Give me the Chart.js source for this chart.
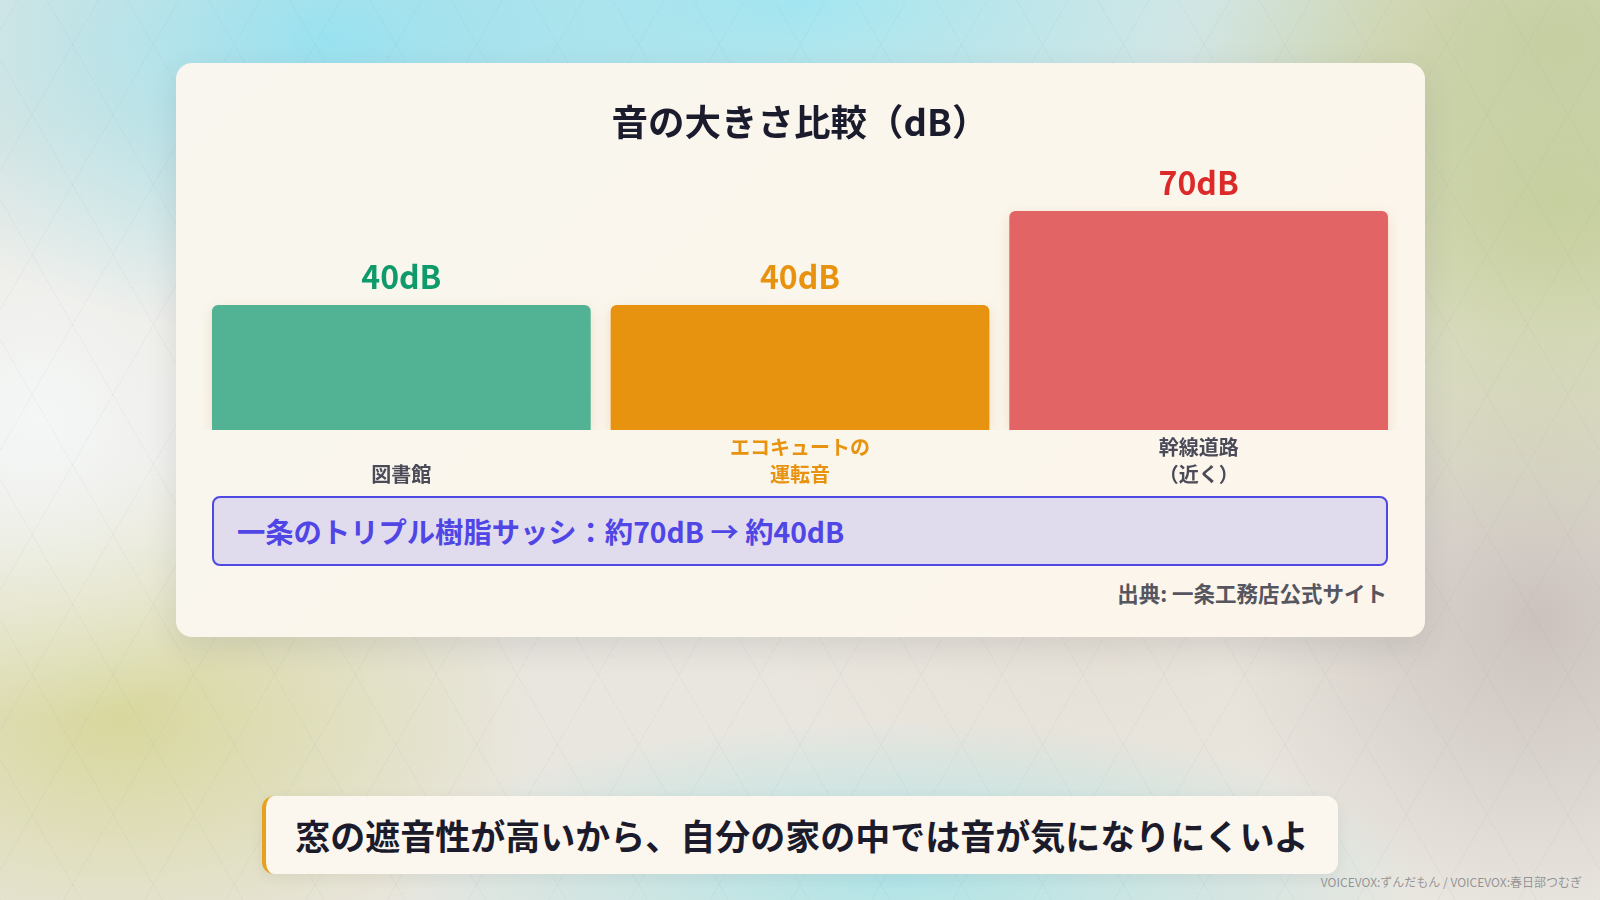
<!DOCTYPE html>
<html lang="ja">
<head>
<meta charset="utf-8">
<title>音の大きさ比較（dB）</title>
<script src="https://cdn.jsdelivr.net/npm/chart.js@4.4.1/dist/chart.umd.min.js"></script>
<style>
    html, body {
        margin: 0;
        padding: 0;
        width: 1600px;
        height: 900px;
        overflow: hidden;
        font-family: 'Noto Sans CJK JP', 'Noto Sans', sans-serif;
    }
    body {
        position: relative;
        background-color: #e9e6df;
        background-image:
            repeating-linear-gradient(60deg, rgba(110, 125, 150, 0.06) 0 1px, transparent 1px 70px),
            repeating-linear-gradient(-60deg, rgba(110, 125, 150, 0.06) 0 1px, transparent 1px 70px),
            radial-gradient(ellipse 520px 300px at 330px 40px, rgba(150, 225, 240, 0.95), transparent),
            radial-gradient(ellipse 600px 260px at 800px 0px, rgba(160, 230, 242, 0.95), transparent),
            radial-gradient(ellipse 300px 300px at 40px 420px, rgba(245, 248, 248, 0.95), transparent),
            radial-gradient(ellipse 380px 300px at 1560px 40px, rgba(196, 206, 160, 0.95), transparent),
            radial-gradient(ellipse 420px 360px at 1560px 200px, rgba(196, 206, 150, 0.9), transparent),
            radial-gradient(ellipse 420px 260px at 120px 720px, rgba(214, 214, 150, 0.9), transparent),
            radial-gradient(ellipse 320px 300px at 1540px 620px, rgba(200, 190, 185, 0.9), transparent),
            radial-gradient(ellipse 520px 160px at 900px 880px, rgba(170, 228, 232, 0.9), transparent),
            radial-gradient(ellipse 360px 200px at 1100px 640px, rgba(230, 224, 214, 0.9), transparent);
    }
    .card {
        position: absolute;
        left: 176px;
        top: 63px;
        width: 1249px;
        height: 574px;
        border-radius: 16px;
        background: linear-gradient(135deg, #f8f6ee 0%, #fbf6ec 60%, #fcf5eb 100%);
        box-shadow: 0 10px 30px rgba(60, 60, 70, 0.12);
    }
    .chart-box {
        position: absolute;
        left: 0;
        top: 0;
        width: 1249px;
        height: 429px;
    }
    .callout {
        position: absolute;
        left: 36px;
        top: 433px;
        width: 1149px;
        height: 66px;
        border: 2px solid #5048e2;
        border-radius: 8px;
        background: #e1dbee;
        color: #4f46e5;
        font-weight: bold;
        font-size: 28.3px;
        line-height: 66px;
        padding-left: 23px;
        box-sizing: content-box;
        white-space: nowrap;
    }
    .source {
        position: absolute;
        right: 38px;
        top: 514px;
        font-size: 21.5px;
        font-weight: bold;
        color: #55565f;
        white-space: nowrap;
    }
    .subtitle {
        position: absolute;
        left: 262px;
        top: 796px;
        width: 1076px;
        height: 78px;
        border-radius: 12px;
        border-left: 4px solid #e8a020;
        background: #fbf7ef;
        box-sizing: border-box;
        text-align: center;
        line-height: 78px;
        font-size: 35px;
        font-weight: bold;
        color: #1b1b2c;
        white-space: nowrap;
        box-shadow: 0 4px 14px rgba(60, 60, 70, 0.08);
    }
    .credit {
        position: absolute;
        right: 18px;
        top: 873px;
        font-size: 12px;
        color: rgba(120, 120, 125, 0.75);
        white-space: nowrap;
    }
</style>
</head>
<body>
<div class="card">
    <div class="chart-box"><canvas id="db-chart"></canvas></div>
    <div class="callout">一条のトリプル樹脂サッシ：約70dB → 約40dB</div>
    <div class="source">出典: 一条工務店公式サイト</div>
</div>
<div class="subtitle">窓の遮音性が高いから、自分の家の中では音が気になりにくいよ</div>
<div class="credit">VOICEVOX:ずんだもん / VOICEVOX:春日部つむぎ</div>

<script>
// Chart data
const categories = [['図書館'], ['エコキュートの', '運転音'], ['幹線道路', '（近く）']];
const decibels = [40, 40, 70];
const barColors = ['#52b394', '#e8930f', '#e36464'];
const valueColors = ['#0f9a6b', '#e8930f', '#dc2a2a'];
const labelColors = ['#4a4a58', '#e8930f', '#4a4a58'];

Chart.defaults.font.family = "'Noto Sans CJK JP', 'Noto Sans', sans-serif";

// Draws the "xxdB" text above each bar
const valueLabels = {
    id: 'valueLabels',
    afterDatasetsDraw(chart) {
        const ctx = chart.ctx;
        const meta = chart.getDatasetMeta(0);
        ctx.save();
        ctx.font = "bold 32px 'Noto Sans CJK JP', sans-serif";
        ctx.textAlign = 'center';
        ctx.textBaseline = 'middle';
        meta.data.forEach((bar, i) => {
            ctx.fillStyle = valueColors[i];
            ctx.fillText(decibels[i] + 'dB', bar.x, bar.y - 28);
        });
        ctx.restore();
    }
};

// Soft shadow under the bars
const barShadow = {
    id: 'barShadow',
    beforeDatasetsDraw(chart) {
        const ctx = chart.ctx;
        ctx.save();
        ctx.shadowColor = 'rgba(200, 120, 40, 0.18)';
        ctx.shadowBlur = 14;
        ctx.shadowOffsetY = 4;
    },
    afterDatasetsDraw(chart) {
        chart.ctx.restore();
    }
};

const ctx = document.getElementById('db-chart').getContext('2d');
new Chart(ctx, {
    type: 'bar',
    data: {
        labels: categories,
        datasets: [{
            data: decibels,
            backgroundColor: barColors,
            borderRadius: 6,
            borderSkipped: 'start',
            barPercentage: 0.95,
            categoryPercentage: 1
        }]
    },
    options: {
        responsive: true,
        maintainAspectRatio: false,
        animation: false,
        layout: {
            padding: { left: 26, right: 27, top: 0, bottom: 0 }
        },
        plugins: {
            legend: { display: false },
            tooltip: { enabled: false },
            title: {
                display: true,
                text: '音の大きさ比較（dB）',
                color: '#1b1b2e',
                font: { size: 36.5, weight: 'bold', lineHeight: 1.2 },
                padding: { top: 37, bottom: 36 }
            }
        },
        scales: {
            y: {
                display: false,
                min: 0,
                max: 80
            },
            x: {
                grid: { display: false, drawTicks: false },
                border: { display: false },
                ticks: {
                    padding: 4,
                    color: (c) => labelColors[c.index],
                    font: { size: 20, weight: 'bold', lineHeight: 1.35 },
                    // one-line labels sit on the lower line, like the two-line ones
                    callback: (v, i) => categories[i].length === 1 ? ['', categories[i][0]] : categories[i]
                }
            }
        }
    },
    plugins: [barShadow, valueLabels]
});
</script>
</body>
</html>
